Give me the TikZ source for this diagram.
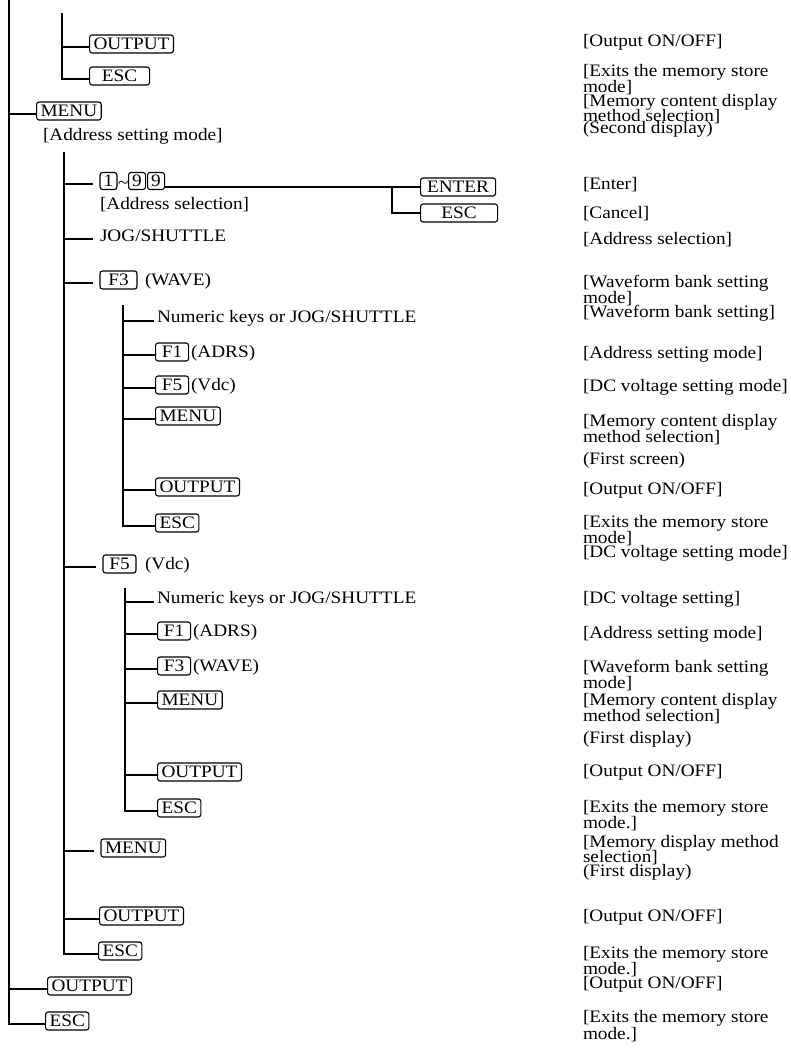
\documentclass[tikz,border=0pt]{standalone}
\usepackage{fontspec}
\setmainfont[FakeStretch=1.1]{Liberation Serif}
\usetikzlibrary{positioning}

\tikzset{
  key/.style={draw, anchor=west, rounded corners=2.5pt, line width=1.1pt,
    inner xsep=4pt, inner ysep=1pt, minimum height=18pt,
    font=\fontsize{17.5}{17.5}\selectfont},
  fkey/.style={key, minimum width=33pt},
  digit/.style={key, inner xsep=2pt, minimum width=17pt, minimum height=17pt},
  txt/.style={anchor=west, inner sep=0pt, outer xsep=3pt,
    font=\fontsize{17.5}{16}\selectfont},
  gap/.style={outer xsep=7pt},
  tree/.style={line width=1.1pt},
}

\begin{document}
\begin{tikzpicture}[x=1pt,y=-1pt]
\useasboundingbox (0,0) rectangle (791,1054);

% tree lines
\coordinate (trunk) at (9,0);
\coordinate (lineA) at (62,13);
\coordinate (lineB) at (64,152);
\coordinate (lineC) at (123,305);
\coordinate (lineD) at (125,588);
\coordinate (fork) at (392,187);

% top part
\node[key] (outA) at (89,44) {OUTPUT};
\node[key, minimum width=60pt] (escA) at (89,76) {ESC};
\node[key] (menuA) at (36,111) {MENU};
\node[txt] (addrmode) at (40,136) {[Address setting mode]};

% address keys
\node[digit, gap] (one) at (93,181) {1};
\node[txt] (tilde) at (115,185) {\textasciitilde};
\node[digit] (nineA) at (128,181) {9};
\node[digit] (nineB) at (147,181) {9};
\node[txt] (addrsel) at (97,205) {[Address selection]};
\node[key, minimum width=75pt] (enter) at (420,187) {ENTER};
\node[key, minimum width=77pt] (escB) at (420,213) {ESC};
\node[txt, gap] (jog) at (93,236) {JOG/SHUTTLE};

% F3 branch
\node[fkey, gap, minimum width=37pt] (f3A) at (93,280) {F3};
\node[txt] (waveA) at (142,281) {(WAVE)};
\node[txt] (numA) at (154,318) {Numeric keys or JOG/SHUTTLE};
\node[fkey] (f1A) at (155,352) {F1};
\node[txt] (adrsA) at (188,353) {(ADRS)};
\node[fkey] (f5A) at (155,385) {F5};
\node[txt] (vdcA) at (188,386) {(Vdc)};
\node[key] (menuB) at (155,416) {MENU};
\node[key] (outB) at (155,487) {OUTPUT};
\node[key] (escD) at (155,523) {ESC};

% F5 branch
\node[fkey, gap] (f5B) at (96,564) {F5};
\node[txt] (vdcB) at (142,565) {(Vdc)};
\node[txt] (numB) at (154,599) {Numeric keys or JOG/SHUTTLE};
\node[fkey] (f1B) at (157,631) {F1};
\node[txt] (adrsB) at (190,632) {(ADRS)};
\node[fkey] (f3B) at (157,666) {F3};
\node[txt] (waveB) at (190,667) {(WAVE)};
\node[key] (menuC) at (157,700) {MENU};
\node[key] (outC) at (157,772) {OUTPUT};
\node[key] (escE) at (157,808) {ESC};

% bottom part
\node[key, gap] (menuD) at (94,848) {MENU};
\node[key] (outD) at (99,916) {OUTPUT};
\node[key] (escF) at (98,951) {ESC};
\node[key] (outE) at (47,986) {OUTPUT};
\node[key] (escG) at (45,1021) {ESC};

% descriptions
\foreach \y/\t [count=\i] in {
  42/{[Output ON/OFF]}, 72/{[Exits the memory store}, 88/{mode]},
  102/{[Memory content display}, 117/{method selection]}, 129/{(Second display)},
  185/{[Enter]}, 214/{[Cancel]}, 240/{[Address selection]},
  283/{[Waveform bank setting}, 299/{mode]}, 313/{[Waveform bank setting]},
  354/{[Address setting mode]}, 387/{[DC voltage setting mode]},
  422/{[Memory content display}, 438/{method selection]}, 460/{(First screen)},
  490/{[Output ON/OFF]}, 523/{[Exits the memory store}, 539/{mode]},
  553/{[DC voltage setting mode]}, 599/{[DC voltage setting]},
  634/{[Address setting mode]}, 668/{[Waveform bank setting}, 684/{mode]},
  701/{[Memory content display}, 717/{method selection]}, 739/{(First display)},
  772/{[Output ON/OFF]}, 808/{[Exits the memory store}, 824/{mode.]},
  843/{[Memory display method}, 858/{selection]}, 872/{(First display)},
  917/{[Output ON/OFF]}, 954/{[Exits the memory store}, 970/{mode.]},
  984/{[Output ON/OFF]}, 1018/{[Exits the memory store}, 1035/{mode.]}}
  \node[txt] (r\i) at (580,\y) {\t};

% main trunk
\draw[tree] (trunk) |- ([yshift=-3pt]escG.west);
\draw[tree] ([yshift=-3pt]menuA.west) -- ([yshift=-3pt]menuA.west -| trunk);
\draw[tree] ([yshift=-3pt]outE.west) -- ([yshift=-3pt]outE.west -| trunk);

% top branch
\draw[tree] (lineA) |- ([yshift=-3pt]escA.west);
\draw[tree] ([yshift=-3pt]outA.west) -- ([yshift=-3pt]outA.west -| lineA);

% address setting branch
\draw[tree] (lineB) |- ([yshift=-3pt]escF.west);
\foreach \k in {one,jog,f3A,f5B,menuD,outD}
  \draw[tree] ([yshift=-3pt]\k.west) -- ([yshift=-3pt]\k.west -| lineB);
\draw[tree] (nineB.east |- fork) -- (fork) -- (enter.west);
\draw[tree] (fork) |- (escB.west);

% F3 sub branch
\draw[tree] (lineC) |- ([yshift=-3pt]escD.west);
\foreach \k in {numA,f1A,f5A,menuB,outB}
  \draw[tree] ([yshift=-3pt]\k.west) -- ([yshift=-3pt]\k.west -| lineC);

% F5 sub branch
\draw[tree] (lineD) |- ([yshift=-3pt]escE.west);
\foreach \k in {numB,f1B,f3B,menuC,outC}
  \draw[tree] ([yshift=-3pt]\k.west) -- ([yshift=-3pt]\k.west -| lineD);
\end{tikzpicture}
\end{document}
